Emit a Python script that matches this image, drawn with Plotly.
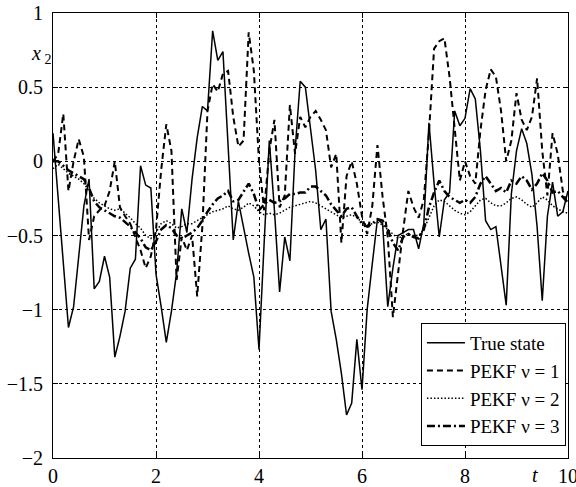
import plotly.graph_objects as go

t = [i / 10 for i in range(101)]

true_state = [
    0.19, -0.25, -0.70, -1.12, -0.98, -0.62, -0.30, -0.12, -0.86, -0.81,
    -0.64, -0.78, -1.32, -1.18, -1.01, -0.72, -0.66, -0.03, -0.16, -0.18,
    -0.76, -0.98, -1.22, -1.01, -0.75, -0.32, -0.48, -0.12, 0.16, 0.37,
    0.34, 0.88, 0.68, 0.74, 0.12, -0.53, -0.27, -0.45, -0.62, -0.78,
    -1.27, -0.55, 0.14, -0.33, -0.88, -0.51, -0.67, 0.07, 0.54, 0.50,
    0.23, -0.06, -0.46, -0.39, -1.01, -1.20, -1.43, -1.71, -1.63, -1.20,
    -1.54, -1.00, -0.69, -0.39, -0.42, -0.98, -0.72, -0.50, -0.48, -0.46,
    -0.46, -0.59, -0.42, 0.26, -0.15, -0.51, -0.26, -0.21, 0.34, 0.24,
    0.29, 0.49, 0.42, 0.07, -0.40, -0.46, -0.44, -0.71, -0.97, -0.22,
    0.07, 0.22, 0.12, -0.09, -0.44, -0.94, -0.37, -0.14, -0.37, -0.34,
    -0.20,
]

pekf_v1 = [
    0.00, 0.05, 0.32, -0.20, 0.00, 0.15, 0.03, -0.53, -0.37, -0.33,
    -0.30, -0.20, 0.00, -0.31, -0.37, -0.42, -0.51, -0.60, -0.72, -0.64,
    -0.46, -0.06, 0.25, 0.07, -0.80, -0.51, -0.60, -0.50, -0.91, -0.44,
    0.34, 0.52, 0.47, 0.59, 0.61, 0.30, 0.10, 0.14, 0.87, 0.61,
    0.00, -0.33, 0.07, 0.28, -0.31, -0.23, 0.38, 0.05, 0.30, 0.23,
    0.30, 0.34, 0.28, 0.21, -0.04, 0.05, -0.55, -0.10, 0.00, -0.15,
    -0.37, -0.49, -0.30, 0.11, -0.24, -0.51, -1.05, -0.75, -0.46, -0.20,
    -0.31, -0.38, -0.26, 0.19, 0.76, 0.81, 0.83, 0.57, 0.21, -0.13,
    0.00, -0.10, -0.15, 0.21, 0.48, 0.62, 0.57, 0.34, 0.00, 0.14,
    0.46, 0.28, 0.21, 0.30, 0.56, 0.07, -0.23, 0.19, 0.05, -0.20,
    -0.30,
]

pekf_v2 = [
    -0.05, -0.02, -0.05, -0.08, -0.10, -0.12, -0.15, -0.20, -0.25, -0.28,
    -0.30, -0.32, -0.33, -0.32, -0.35, -0.38, -0.42, -0.45, -0.50, -0.52,
    -0.48, -0.42, -0.40, -0.42, -0.45, -0.44, -0.42, -0.42, -0.40, -0.38,
    -0.36, -0.34, -0.33, -0.32, -0.30, -0.32, -0.33, -0.31, -0.28, -0.30,
    -0.34, -0.36, -0.35, -0.36, -0.35, -0.33, -0.31, -0.30, -0.29, -0.28,
    -0.27, -0.28, -0.30, -0.32, -0.34, -0.36, -0.38, -0.37, -0.36, -0.38,
    -0.41, -0.43, -0.42, -0.41, -0.43, -0.46, -0.49, -0.52, -0.50, -0.49,
    -0.50, -0.50, -0.46, -0.38, -0.30, -0.26, -0.27, -0.30, -0.33, -0.35,
    -0.36, -0.34, -0.30, -0.26, -0.25, -0.28, -0.30, -0.30, -0.28, -0.25,
    -0.24, -0.26, -0.29, -0.31, -0.28, -0.24, -0.26, -0.30, -0.32, -0.34,
    -0.35,
]

pekf_v3 = [
    0.00, 0.00, -0.03, -0.06, -0.08, -0.10, -0.12, -0.18, -0.27, -0.31,
    -0.33, -0.35, -0.37, -0.38, -0.41, -0.44, -0.48, -0.52, -0.58, -0.60,
    -0.54, -0.46, -0.43, -0.45, -0.50, -0.52, -0.50, -0.48, -0.45, -0.40,
    -0.34, -0.29, -0.25, -0.23, -0.20, -0.27, -0.26, -0.20, -0.15, -0.22,
    -0.33, -0.29, -0.26, -0.28, -0.27, -0.25, -0.22, -0.22, -0.21, -0.21,
    -0.17, -0.17, -0.20, -0.23, -0.29, -0.33, -0.37, -0.32, -0.31, -0.37,
    -0.42, -0.44, -0.42, -0.39, -0.40, -0.46, -0.55, -0.60, -0.51, -0.49,
    -0.51, -0.52, -0.46, -0.31, -0.21, -0.13, -0.20, -0.24, -0.26, -0.28,
    -0.26, -0.28, -0.24, -0.15, -0.10, -0.15, -0.20, -0.18, -0.21, -0.13,
    -0.15, -0.10, -0.13, -0.19, -0.15, -0.08, -0.13, -0.21, -0.20, -0.24,
    -0.28,
]

x_ticks = [0, 2, 4, 6, 8, 10]
y_ticks = [-2, -1.5, -1, -0.5, 0, 0.5, 1]
legend_names = ["True state", "PEKF ν = 1", "PEKF ν = 2", "PEKF ν = 3"]

FONT = "Liberation Serif"

fig = go.Figure()
fig.add_trace(go.Scatter(x=t, y=true_state, mode="lines", name=legend_names[0],
                         line=dict(color="black", width=1.5, dash="solid")))
fig.add_trace(go.Scatter(x=t, y=pekf_v1, mode="lines", name=legend_names[1],
                         line=dict(color="black", width=2, dash="6px,4px")))
fig.add_trace(go.Scatter(x=t, y=pekf_v2, mode="lines", name=legend_names[2],
                         line=dict(color="black", width=1.5, dash="1.5px,2px")))
fig.add_trace(go.Scatter(x=t, y=pekf_v3, mode="lines", name=legend_names[3],
                         line=dict(color="black", width=2.5, dash="8px,3px,2px,3px")))

axis_common = dict(
    showline=True, linecolor="black", linewidth=1, mirror="allticks",
    ticks="inside", ticklen=5, tickcolor="black", automargin=False,
    showgrid=True, gridcolor="black", gridwidth=1, griddash="dot",
    zeroline=False, ticklabeloverflow="allow",
    tickfont=dict(family=FONT, size=20, color="black"),
)

fig.update_xaxes(range=[0, 10], tickvals=x_ticks, ticklabelstandoff=0, **axis_common)
fig.update_yaxes(range=[-2, 1], tickvals=y_ticks, ticklabelstandoff=5, **axis_common)

fig.add_annotation(xref="paper", yref="paper", x=-0.047, y=0.94,
                   text="<i>x</i><sub> 2</sub>", showarrow=False,
                   font=dict(family=FONT, size=20, color="black"))
fig.add_annotation(xref="paper", yref="paper", x=0.946, y=-0.038,
                   text="<i>t</i>", showarrow=False, yanchor="middle",
                   font=dict(family=FONT, size=20, color="black"))

fig.update_layout(
    width=576, height=487,
    margin=dict(l=53, r=8, t=13, b=29),
    plot_bgcolor="white", paper_bgcolor="white",
    font=dict(family=FONT, size=20, color="black"),
    legend=dict(x=0.996, y=0.027, xanchor="right", yanchor="bottom",
                bgcolor="white", bordercolor="black", borderwidth=1,
                font=dict(family=FONT, size=19, color="black"),
                itemwidth=38, tracegroupgap=0),
    showlegend=True,
)

# remove the page's default body margin so the figure sits at the window's corner
fig.write_html("out.html", config={"displayModeBar": False},
               post_script="document.body.style.margin='0';")
